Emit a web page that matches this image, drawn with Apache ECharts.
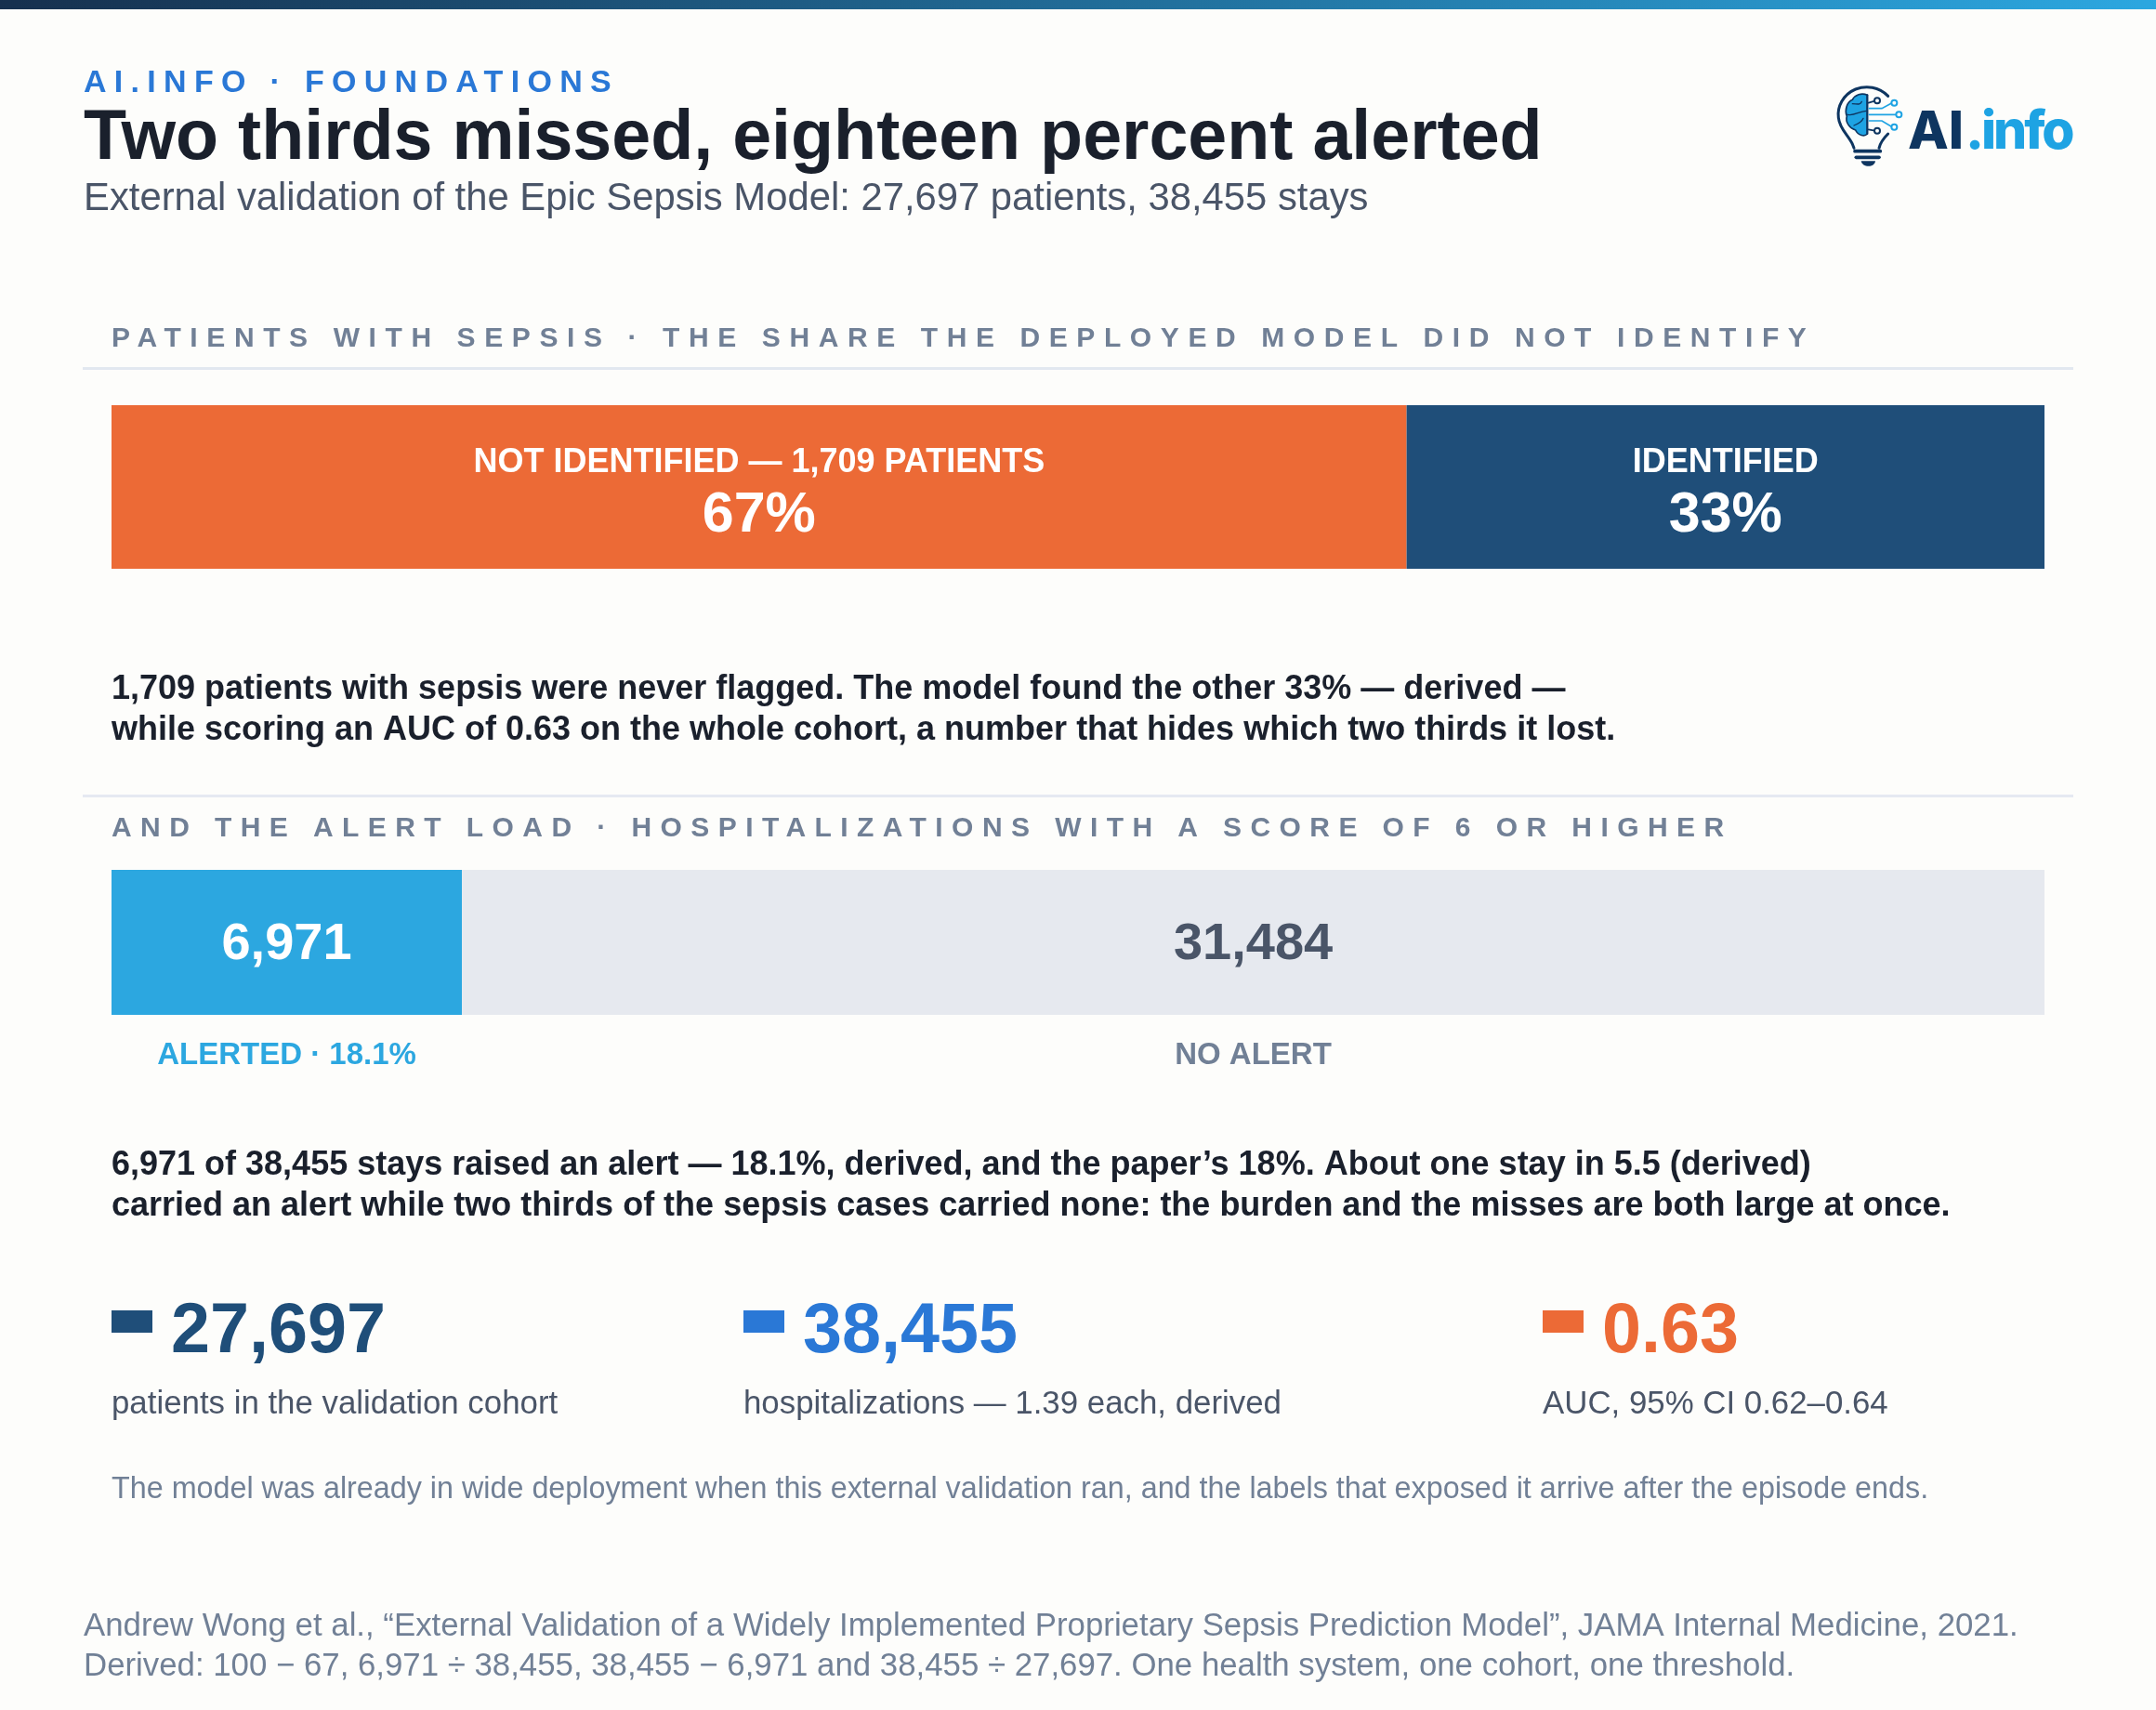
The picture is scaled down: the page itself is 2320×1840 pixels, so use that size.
<!DOCTYPE html>
<html lang="en">
<head>
<meta charset="UTF-8">
<title>Two thirds missed, eighteen percent alerted</title>
<script src="https://cdn.jsdelivr.net/npm/echarts@6/dist/echarts.min.js"></script>
<style>
    html, body { margin: 0; padding: 0; background: #fdfdfb; }
    #main { width: 2320px; height: 1840px; }
</style>
</head>
<body>
<div id="main"></div>
<script>
    // values
    var shareCategories = ['NOT IDENTIFIED — 1,709 PATIENTS', 'IDENTIFIED'];
    var shareValues = [67, 33];
    var shareLabels = ['67%', '33%'];
    var alertCategories = ['ALERTED · 18.1%', 'NO ALERT'];
    var alertValues = [6971, 31484];
    var alertLabels = ['6,971', '31,484'];

    var kpiValues = ['27,697', '38,455', '0.63'];
    var kpiLabels = ['patients in the validation cohort', 'hospitalizations — 1.39 each, derived', 'AUC, 95% CI 0.62–0.64'];

    var eyebrow = 'AI.INFO · FOUNDATIONS';
    var headline = 'Two thirds missed, eighteen percent alerted';
    var subhead = 'External validation of the Epic Sepsis Model: 27,697 patients, 38,455 stays';
    var sectionOne = 'PATIENTS WITH SEPSIS · THE SHARE THE DEPLOYED MODEL DID NOT IDENTIFY';
    var sectionTwo = 'AND THE ALERT LOAD · HOSPITALIZATIONS WITH A SCORE OF 6 OR HIGHER';
    var bodyOne = [
        '1,709 patients with sepsis were never flagged. The model found the other 33% — derived —',
        'while scoring an AUC of 0.63 on the whole cohort, a number that hides which two thirds it lost.'
    ];
    var bodyTwo = [
        '6,971 of 38,455 stays raised an alert — 18.1%, derived, and the paper’s 18%. About one stay in 5.5 (derived)',
        'carried an alert while two thirds of the sepsis cases carried none: the burden and the misses are both large at once.'
    ];
    var note = 'The model was already in wide deployment when this external validation ran, and the labels that exposed it arrive after the episode ends.';
    var source = [
        'Andrew Wong et al., “External Validation of a Widely Implemented Proprietary Sepsis Prediction Model”, JAMA Internal Medicine, 2021.',
        'Derived: 100 − 67, 6,971 ÷ 38,455, 38,455 − 6,971 and 38,455 ÷ 27,697. One health system, one cohort, one threshold.'
    ];

    var FONT = '"Liberation Sans", Arial, sans-serif';
    var NAVY = '#1f4e79', BLUE = '#2a78d6', ORANGE = '#ec6a36', SKY = '#2ca7e0', PALE = '#e6e9ef';
    var INK = '#1a202c', SLATE = '#4a5568', GREY = '#718096', RULE = '#e2e8f0', RULE2 = '#e6e9f2';
    var kpiColors = [NAVY, BLUE, ORANGE];

    // zrender has no tracking option, so set it on the context as each string is painted
    var tracked = {};
    tracked[eyebrow] = '8.3px';
    tracked[sectionOne] = '9.6px';
    tracked[sectionTwo] = '9.42px';
    tracked['.info'] = '-3.1px';
    var nativeFillText = CanvasRenderingContext2D.prototype.fillText;
    CanvasRenderingContext2D.prototype.fillText = function (str, x, y) {
        this.letterSpacing = tracked[str] || '0px';
        nativeFillText.call(this, str, x, y);
    };

    function text(str, x, y, size, weight, fill, family) {
        return {
            type: 'text', silent: true,
            style: {
                text: str, x: x, y: y, fill: fill,
                font: weight + ' ' + size + 'px ' + (family || FONT),
                textAlign: 'left', textVerticalAlign: 'middle'
            }
        };
    }
    function rect(x, y, w, h, fill) {
        return { type: 'rect', silent: true, shape: { x: x, y: y, width: w, height: h }, style: { fill: fill } };
    }

    // the graphic component has no plain path type, so register each logo stroke as a shape
    var pathCount = 0;
    function pathEl(d, style) {
        var name = 'logoPath' + (pathCount++);
        echarts.graphic.registerShape(name, echarts.graphic.extendPath(d, {}));
        return { type: name, style: style };
    }

    // logo drawn in zoomed coordinates, scaled down by the group
    function logo() {
        var dark = '#0e3560', light = '#1ea3e3';
        var line = function (d, c, w) {
            return pathEl(d, { fill: 'none', stroke: c, lineWidth: w, lineCap: 'round' });
        };
        var dot = function (cx, cy, c) {
            return { type: 'circle', shape: { cx: cx, cy: cy, r: 9 }, style: { fill: '#fdfdfb', stroke: c, lineWidth: 6 } };
        };
        return {
            type: 'group', x: 1940, y: 70, scaleX: 1 / 3, scaleY: 1 / 3, silent: true,
            children: [
                line('M275,100 C245,70 205,65 170,78 C130,95 110,135 115,170 C118,205 145,225 160,255 L165,268', dark, 9),
                line('M275,222 C262,235 250,250 246,268', dark, 9),
                line('M168,278 L250,278', dark, 11),
                line('M172,298 L246,298', dark, 11),
                pathEl('M188,310 L234,310 C232,332 192,332 188,310 Z', { fill: dark }),
                pathEl('M208,97 C190,88 168,96 160,112 C142,120 134,145 142,165 C136,185 152,205 170,210 C178,228 200,232 208,222 Z', { fill: light, stroke: dark, lineWidth: 5 }),
                line('M208,97 L208,222', dark, 6),
                line('M160,125 C175,125 185,130 190,118', dark, 4),
                line('M145,160 C165,165 180,150 205,148', dark, 4),
                line('M165,195 C178,190 190,185 195,172', dark, 4),
                line('M212,122 L232,116', dark, 5),
                line('M212,208 L232,212', dark, 5),
                line('M214,140 L255,140 L285,124', light, 5),
                line('M214,160 L300,160', light, 5),
                line('M214,180 L255,180 L285,198', light, 5),
                dot(240, 115, dark), dot(240, 212, dark),
                dot(295, 122, light), dot(310, 160, light), dot(295, 200, light)
            ]
        };
    }

    var graphics = [
        {
            type: 'rect', silent: true, shape: { x: 0, y: 0, width: 2320, height: 10 },
            style: { fill: { type: 'linear', x: 0, y: 0, x2: 1, y2: 0, colorStops: [{ offset: 0, color: '#16304e' }, { offset: 1, color: '#2ca7e0' }] } }
        },
        text(eyebrow, 90, 90, 34, 'bold', BLUE),
        text(headline, 90, 150.5, 75.4, 'bold', INK),
        text(subhead, 90, 214, 41.8, 'normal', SLATE),
        logo(),
        text('AI', 2053, 143, 57, '800', '#0e3560', 'Inter'),
        text('.info', 2115, 143, 57, '800', '#1ea3e3', 'Inter'),
        text(sectionOne, 120, 364.5, 30, 'bold', GREY),
        rect(89, 395, 2142, 3, RULE),
        text(bodyOne[0], 120, 742.5, 36, 'bold', INK),
        text(bodyOne[1], 120, 786.5, 36, 'bold', INK),
        rect(89, 855, 2142, 3, RULE2),
        text(sectionTwo, 120, 892, 30, 'bold', GREY),
        text(bodyTwo[0], 120, 1254.5, 36, 'bold', INK),
        text(bodyTwo[1], 120, 1298.5, 36, 'bold', INK),
        text(note, 120, 1603.5, 32.3, 'normal', GREY),
        text(source[0], 90, 1750.5, 34.8, 'normal', GREY),
        text(source[1], 90, 1793.5, 34.8, 'normal', GREY)
    ];
    var kpiMarkX = [120, 800, 1660];
    kpiValues.forEach(function (v, i) {
        graphics.push(rect(kpiMarkX[i], 1410, 44, 24, kpiColors[i]));
        graphics.push(text(v, kpiMarkX[i] + 64, 1434.5, 75.5, 'bold', kpiColors[i]));
        graphics.push(text(kpiLabels[i], kpiMarkX[i], 1511, 34.85, 'normal', SLATE));
    });

    function barSeries(name, index, value, color, head, big, headColor) {
        return {
            name: name, type: 'bar', stack: 'total' + index, xAxisIndex: index, yAxisIndex: index,
            barWidth: '100%', silent: true,
            itemStyle: { color: color },
            data: [value],
            label: {
                show: true, position: 'inside', offset: head ? [0, 4.5] : [0, 3],
                formatter: head ? '{h|' + head + '}\n{b|' + big + '}' : '{b|' + big + '}',
                rich: {
                    h: { fontFamily: FONT, fontSize: 36, fontWeight: 'bold', color: '#ffffff', lineHeight: 53, align: 'center' },
                    b: { fontFamily: FONT, fontSize: head ? 61 : 56, fontWeight: 'bold', color: headColor, lineHeight: 60, align: 'center' }
                }
            }
        };
    }
    function captionSeries(name, value, color) {
        return {
            name: name + ' caption', type: 'bar', stack: 'caption', xAxisIndex: 1, yAxisIndex: 1,
            barWidth: '100%', barGap: '-100%', silent: true,
            itemStyle: { color: 'transparent' },
            data: [value],
            label: {
                show: true, position: ['50%', 200], formatter: name,
                align: 'center', verticalAlign: 'middle',
                fontFamily: FONT, fontSize: 33, fontWeight: 'bold', color: color
            }
        };
    }

    var chart = echarts.init(document.getElementById('main'));
    chart.setOption({
        animation: false,
        backgroundColor: '#fdfdfb',
        tooltip: { show: false },
        grid: [
            { left: 120, width: 2080, top: 436, height: 176 },
            { left: 120, width: 2080, top: 936, height: 156 }
        ],
        xAxis: [
            { type: 'value', gridIndex: 0, min: 0, max: 100, show: false },
            { type: 'value', gridIndex: 1, min: 0, max: 38455, show: false }
        ],
        yAxis: [
            { type: 'category', gridIndex: 0, data: ['share'], show: false },
            { type: 'category', gridIndex: 1, data: ['stays'], show: false }
        ],
        series: [
            barSeries(shareCategories[0], 0, shareValues[0], ORANGE, shareCategories[0], shareLabels[0], '#ffffff'),
            barSeries(shareCategories[1], 0, shareValues[1], NAVY, shareCategories[1], shareLabels[1], '#ffffff'),
            barSeries(alertCategories[0], 1, alertValues[0], SKY, null, alertLabels[0], '#ffffff'),
            barSeries(alertCategories[1], 1, alertValues[1], PALE, null, alertLabels[1], SLATE),
            captionSeries(alertCategories[0], alertValues[0], SKY),
            captionSeries(alertCategories[1], alertValues[1], GREY)
        ],
        graphic: { elements: graphics }
    });
</script>
</body>
</html>
